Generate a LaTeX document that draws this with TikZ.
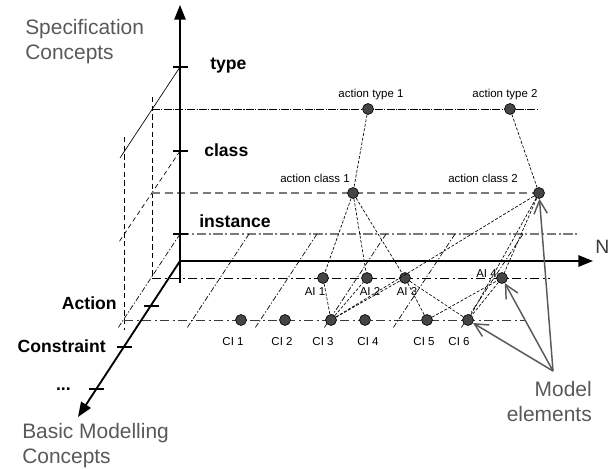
\documentclass[tikz,border=0pt]{standalone}
\usepackage{fontspec}
\setmainfont{Liberation Sans}
\usetikzlibrary{arrows.meta}
\definecolor{txtgray}{HTML}{595959}
\definecolor{dotfill}{HTML}{454545}
\definecolor{planegray}{HTML}{7A7A7A}
\definecolor{rowgray}{HTML}{3A3A3A}

\begin{document}
\begin{tikzpicture}[x=0.75pt,y=-0.75pt,
  elem/.style={circle,draw=black,fill=dotfill,line width=0.5pt,minimum size=8.2pt,inner sep=0pt},
  small/.style={font=\fontsize{8.6}{10}\selectfont,inner sep=0pt},
  level/.style={font=\fontsize{13.2}{15}\selectfont\bfseries,inner sep=0pt},
  big/.style={font=\fontsize{15.7}{18.8}\selectfont,text=txtgray,inner sep=0pt},
  axis/.style={line width=1.4pt,-{Triangle[length=11pt,width=8.5pt]}},
  tickmark/.style={line width=0.9pt},
  link/.style={line width=0.5pt,dash pattern=on 2.2pt off 1.3pt},
  typeline/.style={line width=0.5pt,dash pattern=on 6pt off 1pt on 0.8pt off 1pt},
  classline/.style={draw=planegray,line width=0.8pt,dash pattern=on 6pt off 3.5pt},
  instline/.style={draw=planegray,line width=0.8pt,dash pattern=on 7pt off 2pt on 1.5pt off 2pt},
  rowline/.style={line width=0.6pt,dash pattern=on 7pt off 2.5pt on 1.5pt off 2.5pt},
  vdash/.style={line width=0.5pt,dash pattern=on 4pt off 2.5pt},
  cdiag/.style={line width=0.5pt,dash pattern=on 3.5pt off 2.5pt},
  idiag/.style={line width=0.5pt,dash pattern=on 4pt off 1.5pt on 1pt off 1.5pt},
  pointer/.style={draw=txtgray,line width=1.1pt,-{Straight Barb[length=10pt,width=10pt]}}
]
\path[use as bounding box] (0,0) rectangle (613,468);

% depth planes: verticals, level lines and slanted guides
\draw[vdash] (152,97) -- (152,277);
\draw[vdash] (124,137) -- (124,330);
\draw[line width=0.5pt] (180,67) -- (120,158);
\draw[cdiag] (180,151) -- (119,242);
\draw[typeline] (152,109) -- (538,109);
\draw[classline] (152,193) -- (536,193);
\draw[instline] (180,234) -- (577,234);
\draw[rowline] (152,278) -- (550,278);
\draw[rowline,draw=rowgray] (124,320) -- (525,320);
\foreach \x in {180,249,317,386,455,523}
  \draw[idiag] (\x,234) -- ({\x-62},328);

% model elements
\node[elem] (at1) at (368,109) {};
\node[elem] (at2) at (510,109) {};
\node[elem] (ac1) at (353,193) {};
\node[elem] (ac2) at (539,193) {};
\node[elem] (ai1) at (323,278) {};
\node[elem] (ai2) at (367,278) {};
\node[elem] (ai3) at (405,278) {};
\node[elem] (ai4) at (502,278) {};
\node[elem] (ci1) at (241,320) {};
\node[elem] (ci2) at (285,320) {};
\node[elem] (ci3) at (331,320) {};
\node[elem] (ci4) at (365,320) {};
\node[elem] (ci5) at (427,320) {};
\node[elem] (ci6) at (468,320) {};

% relations between elements
\draw[link] (at1) -- (ac1);
\draw[link] (at2) -- (ac2);
\draw[link] (ac1) -- (ai1);
\draw[link] (ac1) -- (ai2);
\draw[link] (ac1) -- (ai3);
\draw[link] (ai1) -- (ci3);
\draw[link] (ci3) -- (ai2);
\draw[link] (ci3) -- (ai3);
\draw[link] (ci3) -- (ac2);
\draw[link] (ai3) -- (ci5);
\draw[link] (ai3) -- (ci6);
\draw[link] (ci5) -- (ai4);
\draw[link] (ac2) -- (ai4);
\draw[link] (ai4) -- (ci6);
\draw[link] (ac2) -- (ci6);

% element labels
\node[small,anchor=base] (lat1) at (371,97) {action type 1};
\node[small,anchor=base] (lat2) at (505,97) {action type 2};
\node[small,anchor=base east] (lac1) at (350,182) {action class 1};
\node[small,anchor=base west] (lac2) at (448,182) {action class 2};
\node[small,anchor=base] (lai1) at (315,295) {AI 1};
\node[small,anchor=base] (lai2) at (370,295) {AI 2};
\node[small,anchor=base] (lai3) at (407,295) {AI 3};
\node[small,anchor=base east] (lai4) at (497,277) {AI 4};
\node[small,anchor=base] (lci1) at (233,345) {CI 1};
\node[small,anchor=base] (lci2) at (282,345) {CI 2};
\node[small,anchor=base] (lci3) at (323,345) {CI 3};
\node[small,anchor=base] (lci4) at (368,345) {CI 4};
\node[small,anchor=base] (lci5) at (424,345) {CI 5};
\node[small,anchor=base] (lci6) at (459,345) {CI 6};

% axes
\coordinate (O) at (180,261);
\draw[axis] (180,283) -- (180,5);
\draw[axis] (O) -- (593,261);
\draw[axis] (O) -- (78,417);

% ticks on the specification axis
\draw[tickmark] (173,67) -- (188,67);
\draw[tickmark] (173,151) -- (188,151);
\draw[tickmark] (173,234) -- (188,234);
% ticks on the modelling axis
\draw[tickmark] (144,306) -- (159,306);
\draw[tickmark] (117,347) -- (132,347);
\draw[tickmark] (89,389) -- (104,389);

% axis labels
\node[level,anchor=base west] (ltype) at (210,69) {type};
\node[level,anchor=base west] (lclass) at (204,156) {class};
\node[level,anchor=base west] (linst) at (199,227) {instance};
\node[level,anchor=base east] (lact) at (117,309) {Action};
\node[level,anchor=base east] (lcons) at (106,352) {Constraint};
\node[level,anchor=base east] (ldots) at (71,390) {...};
\node[font=\fontsize{14.5}{16}\selectfont,text=rowgray,inner sep=0pt,anchor=base west] (lN) at (595,253) {N};

\node[big,align=left,anchor=north west] (spec) at (25,19) {Specification\\Concepts};
\node[big,align=left,anchor=north west] (basic) at (22,423) {Basic Modelling\\Concepts};

% callout
\coordinate (M) at (553,371);
\draw[pointer] (M) -- (ac2);
\draw[pointer] (M) -- (ai4);
\draw[pointer] (M) -- (ci6);
\node[big,align=right,anchor=north east] (mel) at (592,381) {Model\\elements};
\end{tikzpicture}
\end{document}
